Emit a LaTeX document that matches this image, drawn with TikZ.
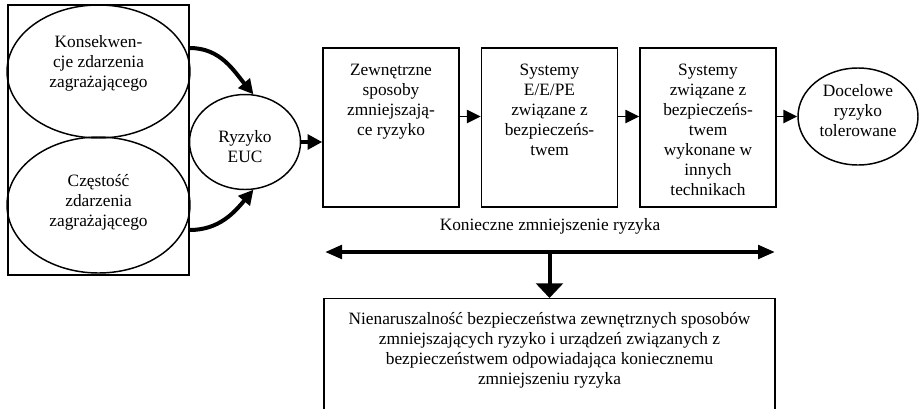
\documentclass[tikz,border=0pt]{standalone}
\usepackage{fontspec}
\setmainfont{Liberation Serif}
\usetikzlibrary{arrows.meta,shapes.geometric}
\newcommand{\boxtext}[1]{\parbox[c][119.25pt][t]{102pt}{\centering\vspace{12pt}#1}}

\begin{document}
\begin{tikzpicture}[x=0.75pt, y=-0.75pt,
  every node/.style={font=\fontsize{13}{15}\selectfont},
  blob/.style={draw, ellipse, line width=1.1pt, align=center, inner sep=0pt},
  box/.style={draw, rectangle, line width=1.1pt, inner sep=0pt},
  heavy/.style={line width=3pt, -{Triangle[length=11pt,width=11pt]}},
  link/.style={line width=1.1pt, -{Triangle[length=10.5pt,width=10pt]}},
]
\useasboundingbox (0,0) rectangle (920,408);
% left group: the two factors of the risk
\node[box, minimum width=135.75pt, minimum height=202.5pt] (grp) at (98.5,140) {};
\node[blob, minimum width=137.25pt, minimum height=99.75pt, text depth=15pt] (conseq) at (98.5,71.5) {Konsekwen-\\cje zdarzenia\\zagrażającego};
\node[blob, minimum width=137.25pt, minimum height=102pt, text depth=7.5pt] (freq) at (98.5,205) {Częstość\\zdarzenia\\zagrażającego};
\node[blob, minimum width=83.25pt, minimum height=71.25pt, text height=31pt, text depth=0pt] (euc) at (245,142) {Ryzyko\\EUC};
% chain of risk reduction
\node[box] (ext) at (391,127.5) {\boxtext{Zewnętrzne\\sposoby\\zmniejszają-\\ce ryzyko}};
\node[box] (eepe) at (549.5,127.5) {\boxtext{Systemy\\E/E/PE\\związane z\\bezpieczeńs-\\twem}};
\node[box] (other) at (708,127.5) {\boxtext{Systemy\\związane z\\bezpieczeńs-\\twem\\wykonane w\\innych\\technikach}};
\node[blob, minimum width=90pt, minimum height=72.75pt, text depth=9pt] (target) at (858,116.5) {Docelowe\\ryzyko\\tolerowane};
% necessary reduction
\node (need) at (550,226) {Konieczne zmniejszenie ryzyka};
\coordinate (needL) at (325,252);
\coordinate (needR) at (775,252);
\coordinate (needM) at (549.5,252);
\node[box, anchor=north] (sil) at (549.5,298) {\parbox[c][90pt][t]{338.25pt}{\centering\vspace{10.5pt}Nienaruszalność bezpieczeństwa zewnętrznych sposobów\\zmniejszających ryzyko i urządzeń związanych z\\bezpieczeństwem odpowiadająca koniecznemu\\zmniejszeniu ryzyka}};

\draw[heavy] ([yshift=69pt]grp.east) to[out=0, in=130] (euc.80);
\draw[heavy] ([yshift=-67.5pt]grp.east) to[out=0, in=-130] (euc.-80);
\draw[heavy] (euc.east) -- (euc.east -| ext.west);
\draw[link] (ext.east |- target) -- (eepe.west |- target);
\draw[link] (eepe.east |- target) -- (other.west |- target);
\draw[link] (other.east |- target) -- (target.west);
\draw[line width=3pt, {Triangle[length=12.75pt,width=10pt]}-{Triangle[length=12.75pt,width=10pt]}] (needL) -- (needR);
\draw[heavy, -{Triangle[length=11pt,width=20pt]}] (needM) -- (sil.north);
\end{tikzpicture}
\end{document}
